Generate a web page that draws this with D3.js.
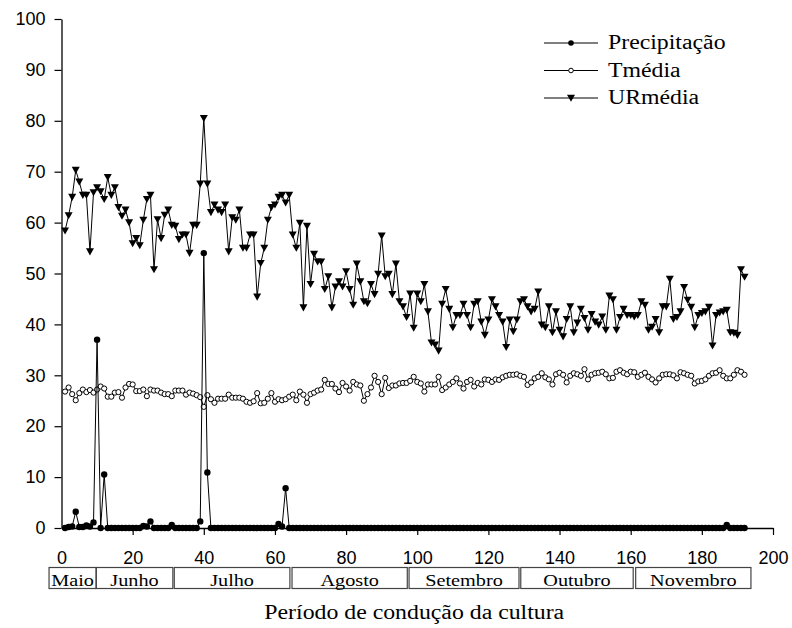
<!DOCTYPE html>
<html>
<head>
<meta charset="utf-8">
<script src="https://cdn.jsdelivr.net/npm/d3@7/dist/d3.min.js"></script>
<style>
  html, body { margin: 0; padding: 0; background: #fff; }
  svg { display: block; }
</style>
</head>
<body>
<svg id="chart" width="792" height="628"></svg>
<script>
// daily values, day 1 .. 192
const precipitacao = [
  0, 0.2, 0.3, 3.2, 0.2, 0.2, 0.5, 0.3, 1.1, 37,
  0, 10.5, 0, 0, 0, 0, 0, 0, 0, 0,
  0, 0, 0.4, 0.3, 1.3, 0, 0, 0, 0, 0,
  0.6, 0, 0, 0, 0, 0, 0, 0, 1.3, 54,
  10.9, 0, 0, 0, 0, 0, 0, 0, 0, 0,
  0, 0, 0, 0, 0, 0, 0, 0, 0, 0,
  0.8, 0.3, 7.8, 0, 0, 0, 0, 0, 0, 0,
  0, 0, 0, 0, 0, 0, 0, 0, 0, 0,
  0, 0, 0, 0, 0, 0, 0, 0, 0, 0,
  0, 0, 0, 0, 0, 0, 0, 0, 0, 0,
  0, 0, 0, 0, 0, 0, 0, 0, 0, 0,
  0, 0, 0, 0, 0, 0, 0, 0, 0, 0,
  0, 0, 0, 0, 0, 0, 0, 0, 0, 0,
  0, 0, 0, 0, 0, 0, 0, 0, 0, 0,
  0, 0, 0, 0, 0, 0, 0, 0, 0, 0,
  0, 0, 0, 0, 0, 0, 0, 0, 0, 0,
  0, 0, 0, 0, 0, 0, 0, 0, 0, 0,
  0, 0, 0, 0, 0, 0, 0, 0, 0, 0,
  0, 0, 0, 0, 0, 0, 0.6, 0, 0, 0,
  0, 0
];

const tmedia = [
  26.8, 27.6, 26.3, 25.1, 26.5, 27.2, 26.7, 27.1, 26.6, 27.2,
  27.8, 27.4, 25.8, 25.8, 26.6, 26.7, 25.6, 27.6, 28.3, 28.2,
  26.9, 26.9, 27.2, 25.9, 27.2, 27, 27, 26.6, 26.3, 26.3,
  25.9, 27, 27, 27, 26.2, 26.6, 26.4, 26.1, 25.7, 23.8,
  26.1, 25.3, 24.6, 25.4, 25.4, 25.4, 26.2, 25.6, 25.6, 25.6,
  25.4, 24.8, 24.6, 24.9, 26.5, 24.5, 24.6, 25.4, 26.5, 24.8,
  25.3, 25.1, 25.3, 25.8, 26.2, 25.1, 26.8, 26.2, 24.6, 26.3,
  26.6, 27, 27.2, 29.1, 28.3, 28.3, 27.4, 26.7, 28.5, 27.8,
  27, 28.7, 28.2, 28, 25, 26.3, 27.6, 29.9, 28.7, 26.3,
  29.5, 27.5, 28, 28, 28.4, 28.5, 28.5, 28.9, 29.7, 28.7,
  28.4, 26.8, 28.2, 28.2, 28.2, 29.7, 27.1, 27.6, 28.2, 28.7,
  29.4, 28.4, 27.4, 28.7, 29.1, 27.8, 28.5, 28.2, 29.2, 29.1,
  28.7, 29.2, 29.1, 29.6, 29.9, 30.1, 30.1, 30.2, 29.9, 29.7,
  28.1, 28.6, 29.4, 29.7, 30.4, 29.6, 29.2, 28.2, 30.2, 30.5,
  30.1, 28.6, 29.9, 30.4, 30.2, 29.9, 31.2, 29.2, 30.1, 30.4,
  30.5, 30.7, 30.2, 29.4, 29.5, 30.7, 31, 30.5, 30.2, 30.7,
  30.6, 29.7, 30.1, 30.5, 29.7, 29.2, 28.6, 29.4, 30.1, 30.2,
  30.2, 30, 29.4, 30.6, 30.4, 30.1, 29.9, 28.4, 28.8, 28.9,
  29.2, 29.9, 30.4, 30.5, 31, 29.9, 29.4, 29.4, 30.1, 31,
  30.7, 30.1
];

const urmedia = [
  58.4, 61.4, 65, 70.3, 68, 65.4, 65.4, 54.3, 65.9, 66.9,
  66.1, 64.6, 68.9, 65.4, 66.9, 63, 61.3, 62.5, 60, 55.9,
  56.9, 55.5, 60.5, 64.6, 65.4, 50.8, 60.6, 56.9, 61.5, 62.5,
  59.5, 59.3, 56.7, 57.6, 57.6, 54, 59.5, 59.5, 67.6, 80.5,
  67.6, 62, 63.5, 62.5, 62, 63.5, 54.3, 61, 60.5, 62.5,
  55, 55, 57.6, 57.6, 45.4, 52, 55, 60.5, 63, 63.5,
  65, 65.4, 63.9, 65.4, 57.6, 55, 59.9, 43.3, 59.3, 47.9,
  53.8, 52.3, 52.3, 46.9, 49.4, 43.3, 47.4, 48.4, 47.4, 50.4,
  46.9, 43.8, 51.9, 48.4, 44.5, 44.1, 47.9, 45.9, 49.9, 57.4,
  49.4, 49.9, 45.9, 51.9, 44.5, 43.5, 41.4, 46, 39.3, 46,
  44.5, 47.9, 42.5, 36.4, 36, 34.8, 44, 46.9, 43, 39.4,
  41.8, 41.8, 44, 41.8, 39.4, 44, 44.5, 40.5, 37.9, 40.9,
  44.9, 43.5, 41.8, 40.5, 35.5, 40.9, 38.6, 40.9, 44.5, 44.9,
  43.5, 42.5, 43, 46.4, 39.9, 39.4, 43.5, 38.4, 42.5, 38.9,
  37.6, 41, 43.5, 38.4, 40.3, 43, 41.2, 38.9, 42, 40.5,
  39.9, 41.5, 38.9, 45.6, 44.9, 38.9, 41.4, 43, 41.8, 41.8,
  41.5, 41.8, 44.5, 43.8, 38.9, 39.5, 41, 38.4, 43.5, 43.5,
  48.9, 41, 41.4, 42.5, 47.3, 44.8, 43.4, 39.4, 41.8, 42.2,
  42.5, 43.4, 35.8, 41.8, 42.3, 42.5, 42.8, 38.4, 38.3, 37.9,
  50.8, 49.3
];

const days = d3.range(1, precipitacao.length + 1);

// month bands along the x axis (in day units)
const meses = ["Maio", "Junho", "Julho", "Agosto", "Setembro", "Outubro", "Novembro"];
const mesInicio = [-3.5, 9.75, 31.7, 64.8, 97.7, 129.1, 161.4];
const mesFim = [9.75, 31.3, 64.2, 97.2, 128.6, 160.7, 193.8];

const xTicks = [0, 20, 40, 60, 80, 100, 120, 140, 160, 180, 200];
const yTicks = [0, 10, 20, 30, 40, 50, 60, 70, 80, 90, 100];

const legendLabels = ["Precipitação", "Tmédia", "URmédia"];

const svg = d3.select("#chart");
const serif = "'Liberation Serif', 'Times New Roman', serif";
const sans = "'Liberation Sans', Arial, sans-serif";
const stretch = 1.19;

const x = d3.scaleLinear().domain([0, 200]).range([61.5, 773]);
const y = d3.scaleLinear().domain([0, 100]).range([528, 19]);

// Axes
const yAxis = svg.append("g")
  .attr("transform", `translate(${x(0)},0)`)
  .call(d3.axisLeft(y).tickValues(yTicks).tickSize(7).tickPadding(9).tickSizeOuter(0));

const xAxis = svg.append("g")
  .attr("transform", `translate(0,${y(0)})`)
  .call(d3.axisBottom(x).tickValues(xTicks).tickSize(7).tickPadding(16).tickSizeOuter(0));

[xAxis, yAxis].forEach((g) => {
  g.select(".domain").attr("stroke", "#000").attr("stroke-width", 1.3);
  g.selectAll(".tick line").attr("stroke", "#000").attr("stroke-width", 1.2);
  g.selectAll("text")
    .style("font-family", sans)
    .style("font-size", "18px")
    .attr("fill", "#000");
});
xAxis.selectAll(".tick").filter((d) => d === 0).select("line").remove();

// Series
const line = (vals) => d3.line()
  .x((d, i) => x(days[i]))
  .y((d) => y(d))(vals);

const tri = "M-4,-3.3L4,-3.3L0,3.8Z";

// URmédia
svg.append("path")
  .attr("d", line(urmedia))
  .attr("fill", "none")
  .attr("stroke", "#000")
  .attr("stroke-width", 1);

svg.append("g")
  .selectAll("path")
  .data(urmedia)
  .join("path")
  .attr("d", tri)
  .attr("transform", (d, i) => `translate(${x(days[i])},${y(d)})`)
  .attr("fill", "#000");

// Tmédia
svg.append("path")
  .attr("d", line(tmedia))
  .attr("fill", "none")
  .attr("stroke", "#000")
  .attr("stroke-width", 1);

svg.append("g")
  .selectAll("circle")
  .data(tmedia)
  .join("circle")
  .attr("cx", (d, i) => x(days[i]))
  .attr("cy", (d) => y(d))
  .attr("r", 2.6)
  .attr("fill", "#fff")
  .attr("stroke", "#000")
  .attr("stroke-width", 1);

// Precipitação
svg.append("path")
  .attr("d", line(precipitacao))
  .attr("fill", "none")
  .attr("stroke", "#000")
  .attr("stroke-width", 1);

svg.append("g")
  .selectAll("circle")
  .data(precipitacao)
  .join("circle")
  .attr("cx", (d, i) => x(days[i]))
  .attr("cy", (d) => y(d))
  .attr("r", 3.2)
  .attr("fill", "#000");

// Legend
const legend = svg.append("g");
const legendY = [43, 70.5, 98];
legendLabels.forEach((label, i) => {
  const g = legend.append("g").attr("transform", `translate(0,${legendY[i]})`);
  g.append("line")
    .attr("x1", 544).attr("x2", 598)
    .attr("stroke", "#000").attr("stroke-width", 1);
  if (i === 0) {
    g.append("circle").attr("cx", 571).attr("r", 2.8).attr("fill", "#000");
  } else if (i === 1) {
    g.append("circle").attr("cx", 571).attr("r", 2.3)
      .attr("fill", "#fff").attr("stroke", "#000").attr("stroke-width", 1);
  } else {
    g.append("path").attr("d", tri).attr("transform", "translate(571,0)").attr("fill", "#000");
  }
  g.append("text")
    .attr("transform", `translate(608,6) scale(${stretch},1)`)
    .style("font-family", serif)
    .style("font-size", "20px")
    .attr("fill", "#000")
    .text(label);
});

// Month boxes
const months = svg.append("g");
meses.forEach((m, i) => {
  const x0 = x(mesInicio[i]);
  const x1 = x(mesFim[i]);
  months.append("rect")
    .attr("x", x0).attr("y", 567.5)
    .attr("width", x1 - x0).attr("height", 21)
    .attr("fill", "none")
    .attr("stroke", "#444")
    .attr("stroke-width", 1.2);
  months.append("text")
    .attr("transform", `translate(${(x0 + x1) / 2},585.5) scale(${stretch},1)`)
    .attr("text-anchor", "middle")
    .style("font-family", serif)
    .style("font-size", "17px")
    .attr("fill", "#000")
    .text(m);
});

// Axis title
svg.append("text")
  .attr("transform", `translate(${x(100) - 3},619) scale(${stretch},1)`)
  .attr("text-anchor", "middle")
  .style("font-family", serif)
  .style("font-size", "20px")
  .attr("fill", "#000")
  .text("Período de condução da cultura");
</script>
</body>
</html>
